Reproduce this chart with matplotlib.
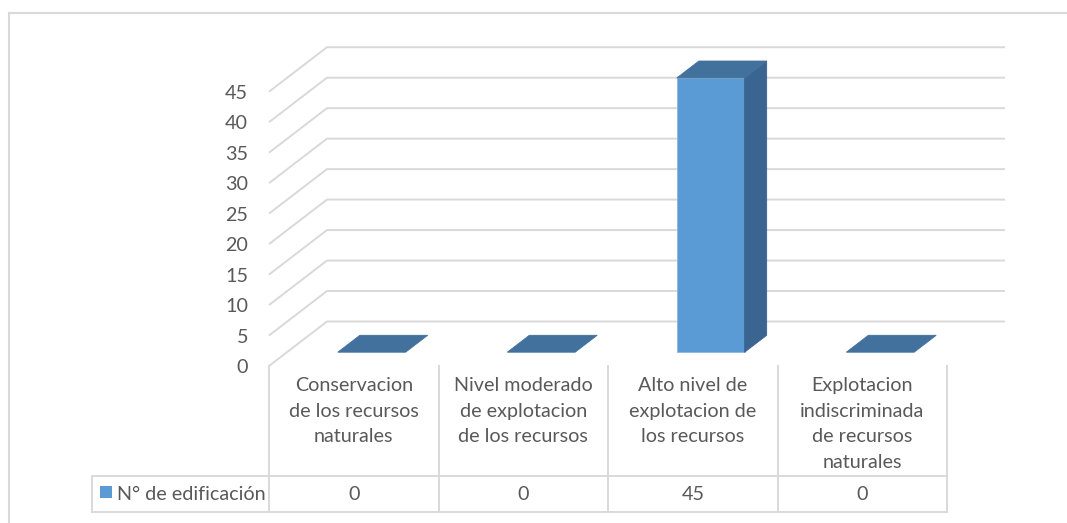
import matplotlib.pyplot as plt
from matplotlib.patches import Polygon, Rectangle
from matplotlib.transforms import blended_transform_factory
from matplotlib.lines import Line2D

plt.rcParams['font.family'] = ['Lato', 'DejaVu Sans']

# datos del grafico
categorias = ["Conservacion\nde los recursos\nnaturales",
              "Nivel moderado\nde explotacion\nde los recursos",
              "Alto nivel de\nexplotacion de\nlos recursos",
              "Explotacion\nindiscriminada\nde recursos\nnaturales"]
valores = [0, 0, 45, 0]
serie = "N° de edificación"
marcas = [0, 5, 10, 15, 20, 25, 30, 35, 40, 45]

# colores
c_frente = '#5B9BD5'
c_techo = '#41719C'
c_lado = '#3A6591'
c_grid = '#D9D9D9'
c_texto = '#595959'

# profundidad oblicua (unidades de categoria / unidades de valor)
DX = 0.342
DY = 7.3
p0, p1 = 0.31, 0.69      # frente y fondo de la barra en la profundidad
ancho = 0.40
ymax = 45
fs = 14.2

fig = plt.figure(figsize=(10.67, 5.23), dpi=100)
ax = fig.add_axes([0.2521, 0.3002, 0.6898, 0.6095])
n = len(categorias)
ax.set_xlim(0, n + DX)
ax.set_ylim(0, ymax + DY)
for s in ax.spines.values():
    s.set_visible(False)
ax.set_xticks([])
ax.set_yticks(marcas)
ax.tick_params(axis='y', length=0, pad=15, labelsize=fs, labelcolor=c_texto)
ax.patch.set_visible(False)

# lineas de division: pared lateral y pared del fondo
for v in marcas:
    ax.plot([0, DX, n + DX], [v, v + DY, v + DY], color=c_grid, lw=1.4,
            zorder=1, clip_on=False, solid_capstyle='butt')

# barras 3D
for i, v in enumerate(valores):
    x0 = i + 0.5 - ancho / 2
    x1 = i + 0.5 + ancho / 2
    a0, b0 = p0 * DX, p0 * DY
    a1, b1 = p1 * DX, p1 * DY
    frente = [(x0 + a0, b0), (x1 + a0, b0), (x1 + a0, v + b0), (x0 + a0, v + b0)]
    lado = [(x1 + a0, b0), (x1 + a1, b1), (x1 + a1, v + b1), (x1 + a0, v + b0)]
    techo = [(x0 + a0, v + b0), (x1 + a0, v + b0), (x1 + a1, v + b1), (x0 + a1, v + b1)]
    if v > 0:
        ax.add_patch(Polygon(frente, closed=True, fc=c_frente, ec='#8CB7E3', lw=0.6, zorder=3))
        ax.add_patch(Polygon(lado, closed=True, fc=c_lado, ec=c_lado, lw=0.6, zorder=3))
    ax.add_patch(Polygon(techo, closed=True, fc=c_techo, ec=c_techo, lw=0.6, zorder=3))

# tabla de datos bajo el eje
tr = blended_transform_factory(ax.transData, ax.transAxes)
y_fila1 = -0.3466
y_fila2 = -0.4586
x_izq = -1.044
y_mid = (y_fila1 + y_fila2) / 2
kw = dict(color=c_grid, lw=1.4, transform=tr, clip_on=False)
for i in range(n + 1):
    ax.plot([i, i], [0, y_fila2], **kw)
ax.plot([x_izq, x_izq], [y_fila1, y_fila2], **kw)
ax.plot([x_izq, n], [y_fila1, y_fila1], **kw)
ax.plot([x_izq, n], [y_fila2, y_fila2], **kw)

for i, cat in enumerate(categorias):
    ax.text(i + 0.5, -0.036, cat, transform=tr, ha='center', va='top',
            fontsize=fs, color=c_texto, linespacing=1.6)
    ax.text(i + 0.5, y_mid, str(valores[i]), transform=tr,
            ha='center', va='center', fontsize=fs, color=c_texto)

# clave de leyenda y nombre de la serie
ax.add_patch(Rectangle((-0.997, -0.4131), 0.069, 0.0367, transform=tr,
                       fc=c_frente, ec='none', clip_on=False))
ax.text(-0.897, y_mid, serie, transform=tr, ha='left',
        va='center', fontsize=fs, color=c_texto)

# marco del area del grafico
fig.add_artist(Line2D([8.5 / 1067, 8.5 / 1067], [0, 1 - 12.5 / 523],
                      transform=fig.transFigure, color=c_grid, lw=1.5))
fig.add_artist(Line2D([8.5 / 1067, 1], [1 - 12.5 / 523, 1 - 12.5 / 523],
                      transform=fig.transFigure, color=c_grid, lw=1.5))

fig.savefig('out.png', dpi=100)
